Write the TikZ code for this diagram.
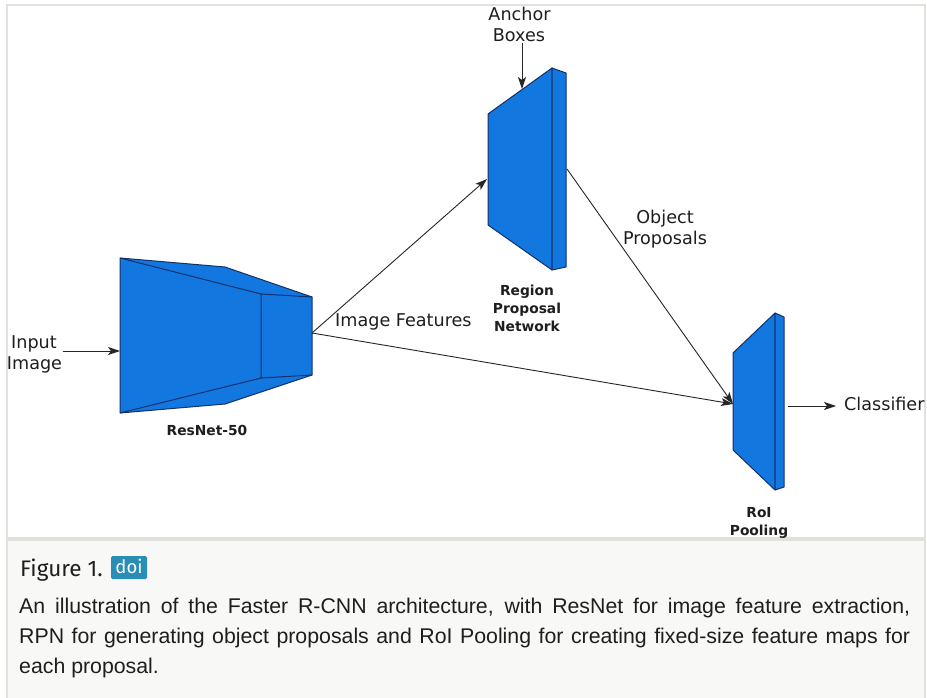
\documentclass[tikz,border=0pt]{standalone}
\usepackage{fontspec}
\setmainfont{DejaVu Sans}
\newfontfamily\capfont{Liberation Sans}
\newfontfamily\figfont{Fira Sans}
\usetikzlibrary{arrows.meta}
\definecolor{blkfill}{HTML}{1278E0}
\definecolor{blkedge}{HTML}{13306C}
\definecolor{framec}{HTML}{E2E2DC}
\definecolor{capbg}{HTML}{F8F8F6}
\definecolor{doibg}{HTML}{2A8DB5}
\definecolor{txt}{HTML}{1E1E1E}
\begin{document}
\begin{tikzpicture}[x=1pt,y=-1pt,
  blkface/.style={fill=blkfill,draw=blkedge,line width=1pt,line join=round},
  blkline/.style={draw=blkedge,line width=1pt},
  lab/.style={font=\fontsize{17.6}{21}\selectfont,text=txt,inner sep=0},
  blab/.style={font=\bfseries\fontsize{13.8}{18}\selectfont,text=txt,inner sep=0},
  capt/.style={font=\capfont\fontsize{21.3}{30}\selectfont,text=txt,inner sep=0},
  conn/.style={draw=black!85,line width=0.9pt,-{Stealth[length=12pt,width=8pt,inset=3pt]}},
  plain/.style={draw=black!85,line width=0.9pt}
]
\useasboundingbox (0,0) rectangle (927,698);
\fill[white] (0,0) rectangle (927,698);
% frames
\draw[framec,line width=2pt,fill=capbg] (6.5,540) rectangle (925,720);
\draw[framec,line width=2pt,fill=white] (6.5,5) rectangle (925,537.5);

% ResNet-50
\coordinate (r1) at (120,258);
\coordinate (r2) at (225,267);
\coordinate (r3) at (312,297);
\coordinate (r4) at (312,375);
\coordinate (r5) at (225,404);
\coordinate (r6) at (120,413);
\coordinate (f1) at (261,294);
\coordinate (f2) at (261,378);
\path[blkface] (r1)--(r2)--(r3)--(r4)--(r5)--(r6)--cycle;
\draw[blkline,line join=round] (r1)--(f1)--(f2)--(r6);
\draw[blkline] (f1)--(r3) (f2)--(r4);

% RPN
\path[blkface] (488,114)--(552,68)--(552,270)--(488,225)--cycle;
\path[blkface] (552,68)--(566,73)--(566,267)--(552,270)--cycle;

% RoI
\path[blkface] (733,353)--(775,313)--(775,490)--(733,450)--cycle;
\path[blkface] (775,313)--(784,317)--(784,487)--(775,490)--cycle;

% connection points
\coordinate (resin) at (120,351);
\coordinate (resout) at (312,333);
\coordinate (rpnin) at (487,179);
\coordinate (rpntop) at (522,89);
\coordinate (rpnout) at (567,169);
\coordinate (roiin) at (733,404);
\coordinate (roiout) at (788,406);
\coordinate (anchorsrc) at (522,43);
\coordinate (inputsrc) at (63,351);
\coordinate (classend) at (836,406);

% labels
\node[lab,anchor=base] (inpA) at (34,348) {Input};
\node[lab,anchor=base] (inpB) at (34.5,369) {Image};
\node[lab,anchor=base] (ancA) at (519.5,21) {Anchor};
\node[lab,anchor=base] (ancB) at (519,42) {Boxes};
\node[lab,anchor=base west] (imf) at (335,326) {Image Features};
\node[lab,anchor=base] (objA) at (665,223) {Object};
\node[lab,anchor=base] (objB) at (665,244) {Proposals};
\node[lab,anchor=base west] (cls) at (844,410) {Classifier};
\node[blab,anchor=base] (resl) at (207,435) {ResNet-50};
\node[blab,anchor=base] (rpnA) at (527,295) {Region};
\node[blab,anchor=base] (rpnB) at (527,313) {Proposal};
\node[blab,anchor=base] (rpnC) at (527,331) {Network};
\node[blab,anchor=base] (roiA) at (759,517) {RoI};
\node[blab,anchor=base] (roiB) at (759,535) {Pooling};

% connectors
\draw[conn] (inputsrc) -- (resin);
\draw[conn] (anchorsrc) -- (rpntop);
\draw[conn] (resout) -- (rpnin);
\draw[conn] (resout) -- (roiin);
\draw[conn] (rpnout) -- (roiin);
\draw[conn] (roiout) -- (classend);

% caption
\node[anchor=base west,font=\figfont\fontsize{22.5}{26}\selectfont,text=txt,inner sep=0] (fig) at (20,576) {Figure 1.};
\fill[doibg,rounded corners=1.5pt] (111,556) rectangle (147,579);
\node[font=\figfont\fontsize{18.5}{22}\selectfont,text=white,inner sep=0,anchor=base] (doi) at (129,573.5) {doi};
\node[capt,anchor=base west] (c1) at (19,613) {\makebox[891pt][s]{An illustration of the Faster R-CNN architecture, with ResNet for image feature extraction,}};
\node[capt,anchor=base west] (c2) at (19,643) {\makebox[891pt][s]{RPN for generating object proposals and RoI Pooling for creating fixed-size feature maps for}};
\node[capt,anchor=base west] (c3) at (19,673) {each proposal.};
\end{tikzpicture}
\end{document}
